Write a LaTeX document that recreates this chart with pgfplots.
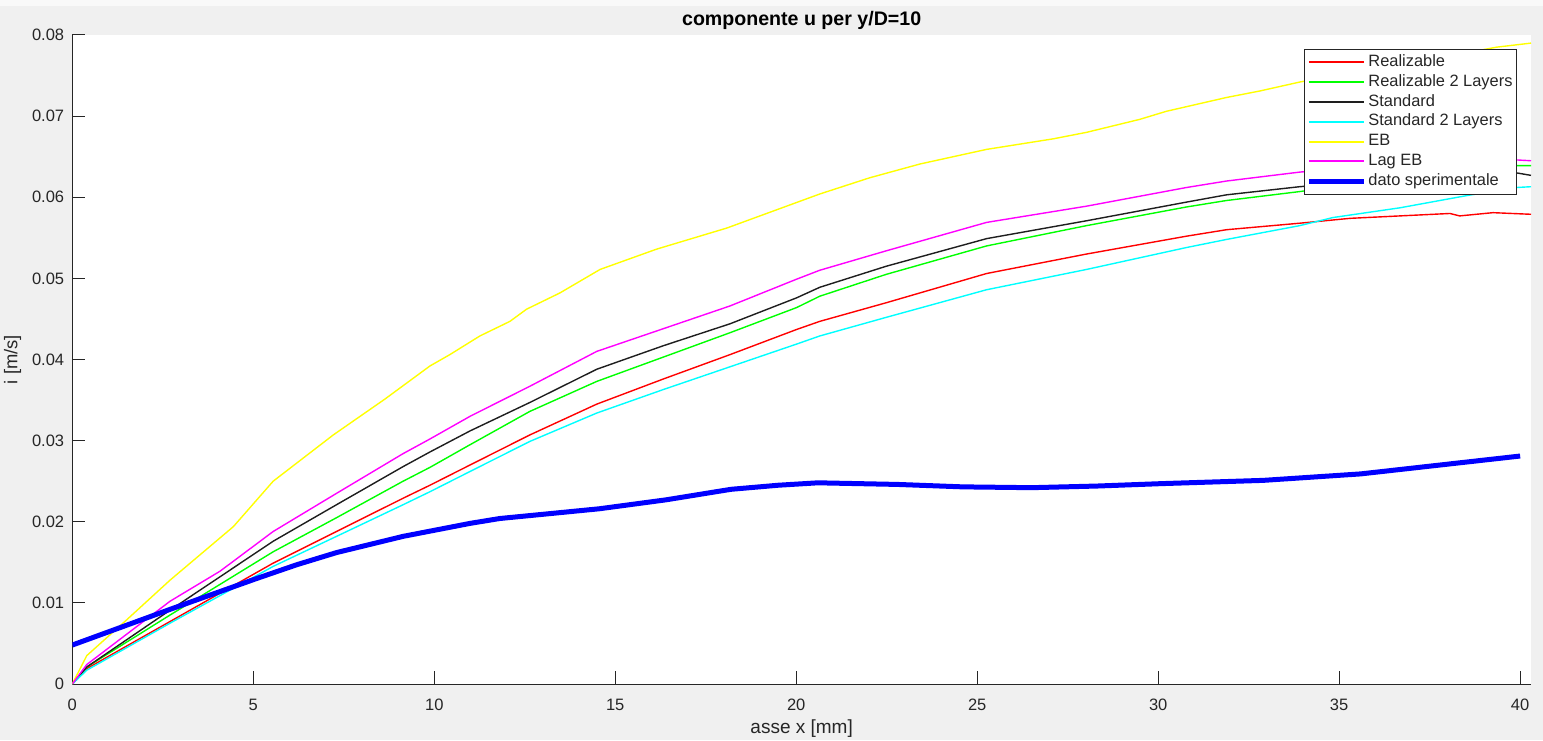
\documentclass[border=0pt]{standalone}
\usepackage{fontspec}
\setmainfont{Liberation Sans}
\usepackage{pgfplots}
\pgfplotsset{compat=1.18}
\definecolor{figgray}{RGB}{240,240,240}
\definecolor{axgray}{RGB}{38,38,38}
\definecolor{mred}{RGB}{255,0,0}
\definecolor{mgreen}{RGB}{0,255,0}
\definecolor{mblack}{RGB}{30,30,30}
\definecolor{mcyan}{RGB}{0,255,255}
\definecolor{myellow}{RGB}{255,255,0}
\definecolor{mmagenta}{RGB}{255,0,255}
\definecolor{mblue}{RGB}{0,0,255}
\pgfplotsset{thin line/.style={line width=0.7pt, legend image post style={line width=1pt}}}
\begin{document}
\begin{tikzpicture}
\useasboundingbox (0,0) rectangle (771.5pt,370pt);
\fill[figgray] (0,0) rectangle (771.5pt,370pt);
\fill[white!60!figgray] (0,367pt) rectangle (771.5pt,370pt);
\begin{axis}[
  at={(36.15pt,28pt)}, anchor=south west,
  scale only axis, width=729.35pt, height=324.5pt,
  xmin=0, xmax=40.3, ymin=0, ymax=0.08,
  axis background/.style={fill=white},
  axis x line*=bottom, axis y line*=left,
  axis line style={-, draw=axgray, line width=0.5pt},
  tick align=inside, tick pos=left,
  major tick length=6.5pt,
  tick style={axgray, line width=0.5pt},
  xtick={0,5,10,15,20,25,30,35,40},
  xticklabels={0,5,10,15,20,25,30,35,40},
  ytick={0,0.01,0.02,0.03,0.04,0.05,0.06,0.07,0.08},
  yticklabels={0,0.01,0.02,0.03,0.04,0.05,0.06,0.07,0.08},
  scaled y ticks=false, scaled x ticks=false,
  ticklabel style={font=\fontsize{8.25}{9}\selectfont, text=axgray},
  xticklabel style={yshift=-4pt},
  yticklabel style={xshift=-0.55pt},
  title={componente u per y/D=10},
  title style={at={(axis description cs:0.5,1.0139)}, anchor=base, yshift=-6pt, font=\bfseries\fontsize{9.8}{11}\selectfont, text=black},
  xlabel={asse x [mm]},
  xlabel style={at={(axis description cs:0.5,-0.0755)}, anchor=base, font=\fontsize{9.5}{10}\selectfont, text=axgray},
  ylabel={i [m/s]},
  ylabel style={at={(axis description cs:-0.0377,0.5)}, anchor=base, rotate=0, font=\fontsize{9.2}{10}\selectfont, text=axgray},
  legend style={at={(axis description cs:0.9904,0.9784)}, anchor=north east, draw=axgray, line width=0.5pt, fill=white,
    font=\fontsize{8.2}{9}\selectfont, text=axgray, inner xsep=1pt, inner ysep=1.5pt, row sep=0pt,
    nodes={inner ysep=1.4pt, inner xsep=1pt, text height=5.6pt, text depth=1.5pt}},
  legend cell align=left,
  legend image code/.code={\draw[#1] (0pt,0pt) -- (27.5pt,0pt);},
]
\addplot[mred, thin line] coordinates {
(0,0) (0.4,0.0019) (2.7,0.0077) (5.55,0.0149) (7.3,0.0188) (9.14,0.0229) (9.88,0.0245) (10.99,0.0270)
(12.64,0.0307) (14.49,0.0345) (16.33,0.0376) (18.17,0.0406) (20.01,0.0437) (20.65,0.0447) (22.49,0.0470)
(25.26,0.0506) (28.02,0.0530) (30.78,0.0552) (31.89,0.0560) (33.91,0.0568) (35.3,0.0574) (36.68,0.0577)
(38.06,0.0580) (38.33,0.0577) (39.25,0.0581) (40.3,0.0579)};
\addlegendentry{Realizable}
\addplot[mgreen, thin line] coordinates {
(0,0) (0.4,0.0021) (2.7,0.0085) (5.55,0.0163) (7.3,0.0205) (9.14,0.0250) (9.88,0.0267) (10.99,0.0295)
(12.64,0.0336) (14.49,0.0373) (16.33,0.0403) (18.17,0.0433) (20.01,0.0464) (20.65,0.0478) (22.49,0.0505)
(25.26,0.0540) (28.02,0.0565) (30.78,0.0588) (31.89,0.0596) (33.91,0.0607) (35.5,0.0617) (37,0.0626)
(38.5,0.0633) (39.9,0.0639) (40.3,0.0639)};
\addlegendentry{Realizable 2 Layers}
\addplot[mblack, thin line] coordinates {
(0,0) (0.4,0.0021) (2.7,0.0091) (5.55,0.0176) (7.3,0.0221) (9.14,0.0268) (9.88,0.0286) (10.99,0.0312)
(12.64,0.0347) (14.49,0.0388) (16.33,0.0417) (18.17,0.0444) (20.01,0.0476) (20.65,0.0489) (22.49,0.0515)
(25.26,0.0549) (28.02,0.0571) (30.78,0.0594) (31.89,0.0603) (33.91,0.0613) (35.5,0.0619) (37,0.0624)
(38.5,0.0628) (39.9,0.0630) (40.3,0.0627)};
\addlegendentry{Standard}
\addplot[mcyan, thin line] coordinates {
(0,0) (0.4,0.0017) (2.7,0.0075) (5.55,0.0145) (7.3,0.0182) (9.14,0.0221) (9.88,0.0237) (10.99,0.0262)
(12.64,0.0299) (14.49,0.0334) (16.33,0.0363) (18.17,0.0391) (20.01,0.0419) (20.65,0.0429) (22.49,0.0452)
(25.26,0.0486) (28.02,0.0511) (30.78,0.0538) (31.89,0.0548) (33.91,0.0565) (34.83,0.0575) (36.68,0.0587)
(38.52,0.0602) (39.9,0.0612) (40.3,0.0613)};
\addlegendentry{Standard 2 Layers}
\addplot[myellow, thin line] coordinates {
(0,0) (0.4,0.0035) (1.5,0.0079) (2.7,0.0128) (4.45,0.0194) (5.55,0.0250) (7.21,0.0307) (8.63,0.0351)
(9.88,0.0392) (10.43,0.0406) (11.26,0.0429) (12.09,0.0447) (12.55,0.0462) (13.47,0.0482) (14.58,0.0511)
(16.14,0.0536) (18.08,0.0562) (20.65,0.0604) (22.03,0.0624) (23.42,0.0641) (25.26,0.0659) (27.1,0.0672)
(28.02,0.0680) (29.49,0.0696) (30.23,0.0706) (31.89,0.0723) (32.81,0.0731) (33.91,0.0742) (35.5,0.0755)
(37,0.0767) (38.5,0.0778) (39.35,0.0785) (40.3,0.0790)};
\addlegendentry{EB}
\addplot[mmagenta, thin line] coordinates {
(0,0) (0.4,0.0024) (2.7,0.0102) (4.08,0.0139) (5.55,0.0188) (7.3,0.0235) (9.14,0.0284) (9.88,0.0302)
(10.99,0.0330) (12.64,0.0367) (14.49,0.0410) (16.33,0.0438) (18.17,0.0466) (20.01,0.0499) (20.65,0.0510)
(22.49,0.0534) (25.26,0.0569) (28.02,0.0589) (30.78,0.0612) (31.89,0.0620) (33.91,0.0631) (35.5,0.0637)
(37,0.0641) (38.5,0.0644) (39.9,0.0646) (40.3,0.0645)};
\addlegendentry{Lag EB}
\addplot[mblue, line width=2.5pt] coordinates {
(0,0.0048) (2.7,0.0092) (5.09,0.0130) (6.2,0.0147) (7.3,0.0162) (9.14,0.0182) (10.99,0.0198) (11.81,0.0204)
(13.19,0.0210) (14.56,0.0216) (16.4,0.0227) (18.2,0.0240) (19.5,0.0245) (20.6,0.0248) (22.8,0.0246)
(24.6,0.0243) (26.5,0.0242) (28.3,0.0244) (30.1,0.0247) (32.9,0.0251) (35.6,0.0259) (37.8,0.0270) (40.0,0.0281)};
\addlegendentry{dato sperimentale}
\end{axis}
\end{tikzpicture}
\end{document}
